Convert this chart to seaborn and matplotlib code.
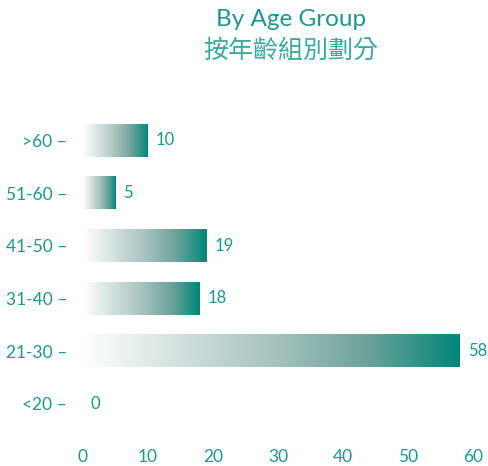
import numpy as np
import pandas as pd
import matplotlib
matplotlib.use('Agg')
import matplotlib.pyplot as plt
from matplotlib.colors import LinearSegmentedColormap
import seaborn as sns

# 数据
age_groups = ['>60', '51-60', '41-50', '31-40', '21-30', '<20']
counts = [10, 5, 19, 18, 58, 0]
x_ticks = [0, 10, 20, 30, 40, 50, 60]

title_en = 'By Age Group'
title_zh = '按年齡組別劃分'

teal = '#1f978c'
grad = LinearSegmentedColormap.from_list(
    'teal_grad', ['#ffffff', '#d3e1df', '#a8c3bf', '#6ea39c', '#00877a'])

sns.set_theme(style='white')
plt.rcParams['font.family'] = ['Lato', 'Noto Sans CJK TC', 'DejaVu Sans']

df = pd.DataFrame({'group': age_groups, 'count': counts})

fig = plt.figure(figsize=(4.88, 4.66), dpi=100)
ax = fig.add_axes([83 / 488, (466 - 430) / 466, 390 / 488, 316 / 466])

sns.barplot(data=df, x='count', y='group', order=age_groups, width=0.62,
            color=teal, ax=ax)

# 把每根柱子换成渐变
xlim = (0, 60)
ylim = ax.get_ylim()
gradient = np.linspace(0, 1, 256).reshape(1, -1)
for p in ax.patches:
    x0, y0 = p.get_x(), p.get_y()
    w, h = p.get_width(), p.get_height()
    if w <= 0:
        p.set_visible(False)
        continue
    ax.imshow(gradient, cmap=grad, aspect='auto', interpolation='bicubic',
              extent=(x0, x0 + w, y0 + h, y0), zorder=2)
    p.set_visible(False)
ax.set_xlim(*xlim)
ax.set_ylim(ylim)

# 数值标签
for i, v in enumerate(counts):
    ax.annotate(f'{v}', xy=(v, i), xytext=(5.5, 0), textcoords='offset points',
                ha='left', va='center', fontsize=12, color=teal)

ax.set_xticks(x_ticks)
ax.set_xticklabels([str(t) for t in x_ticks])
ax.set_yticks(range(len(age_groups)))
ax.set_yticklabels([f'{g} –' for g in age_groups])
ax.tick_params(axis='both', length=0, labelsize=12.5, labelcolor=teal)
ax.tick_params(axis='y', pad=11.5)
ax.tick_params(axis='x', pad=14)
ax.set_xlabel('')
ax.set_ylabel('')
sns.despine(ax=ax, left=True, bottom=True)

fig.text(291 / 488, 1 - 20 / 466, title_en, ha='center', va='center',
         fontsize=17.5, color=teal)
fig.text(291 / 488, 1 - 51 / 466, title_zh, ha='center', va='center',
         fontsize=18, color='#3aa99e',
         family=['Noto Sans CJK TC', 'DejaVu Sans'])

fig.savefig('out.png', dpi=100)
